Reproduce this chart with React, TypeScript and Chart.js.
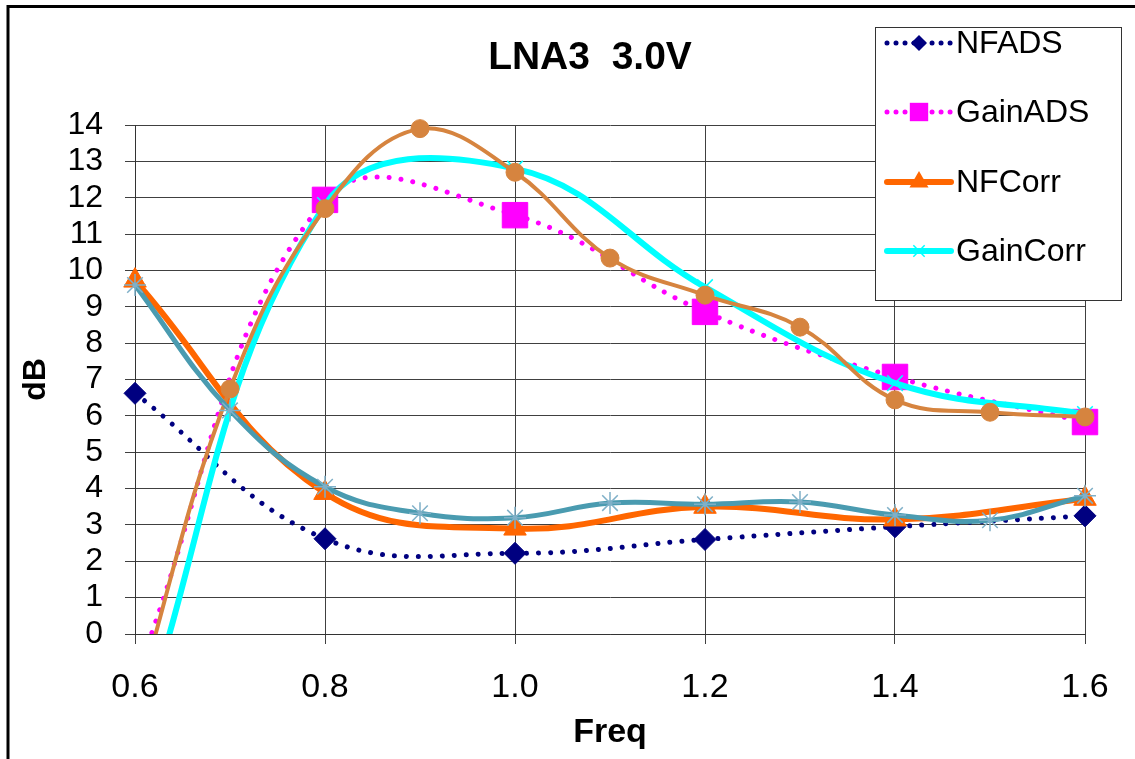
import React, { useEffect, useRef } from 'react';
import { Chart, registerables } from 'chart.js';

Chart.register(...registerables);

// ---------- data ----------
const TITLE = 'LNA3  3.0V';
const X_TITLE = 'Freq';
const Y_TITLE = 'dB';

const freqCoarse = [0.6, 0.8, 1.0, 1.2, 1.4, 1.6];
const freqFine = [0.6, 0.7, 0.8, 0.9, 1.0, 1.1, 1.2, 1.3, 1.4, 1.5, 1.6];

const nfAds = [6.62, 2.62, 2.22, 2.6, 2.95, 3.25];
const gainAds = [-1.2, 11.94, 11.52, 8.86, 7.07, 5.83];
const nfCorr = [9.72, 3.88, 2.9, 3.5, 3.15, 3.72];
const gainCorr = [-3.0, 11.8, 12.8, 9.54, 6.9, 6.05];
const gainMeas = [-2.0, 6.74, 11.7, 13.9, 12.7, 10.34, 9.32, 8.44, 6.44, 6.1, 5.97];
const nfMeas = [9.6, 6.15, 4.05, 3.32, 3.2, 3.6, 3.57, 3.63, 3.27, 3.13, 3.8];

const Y_MIN = 0;
const Y_MAX = 14;
const Y_STEP = 1;
const X_MIN = 0.6;
const X_MAX = 1.6;
const X_STEP = 0.2;

const FONT = '"Liberation Sans", Arial, Helvetica, sans-serif';

const W = 1135;
const H = 759;

const toXY = (xs: number[], ys: number[]) => xs.map((x, i) => ({ x, y: ys[i] }));

type MarkerStyle = 'rectRot' | 'rect' | 'triangle' | 'crossRot' | 'circle' | 'star';

function drawMarker(
  ctx: CanvasRenderingContext2D,
  style: MarkerStyle,
  x: number,
  y: number,
  r: number,
  fill: string,
  stroke: string,
  lw: number
) {
  ctx.save();
  ctx.setLineDash([]);
  ctx.fillStyle = fill;
  ctx.strokeStyle = stroke;
  ctx.lineWidth = lw;
  ctx.beginPath();
  if (style === 'rectRot') {
    ctx.moveTo(x, y - r);
    ctx.lineTo(x + r, y);
    ctx.lineTo(x, y + r);
    ctx.lineTo(x - r, y);
    ctx.closePath();
    ctx.fill();
  } else if (style === 'rect') {
    const s = r * Math.SQRT1_2;
    ctx.rect(x - s, y - s, 2 * s, 2 * s);
    ctx.fill();
  } else if (style === 'triangle') {
    ctx.moveTo(x, y - r);
    ctx.lineTo(x + r * 0.866, y + r / 2);
    ctx.lineTo(x - r * 0.866, y + r / 2);
    ctx.closePath();
    ctx.fill();
  } else if (style === 'crossRot') {
    const s = r * Math.SQRT1_2;
    ctx.moveTo(x - s, y - s);
    ctx.lineTo(x + s, y + s);
    ctx.moveTo(x - s, y + s);
    ctx.lineTo(x + s, y - s);
    ctx.stroke();
  } else if (style === 'circle') {
    ctx.arc(x, y, r, 0, Math.PI * 2);
    ctx.fill();
  }
  ctx.restore();
}

const decorPlugin = {
  id: 'decor',
  afterDraw(chart: any) {
    const ctx: CanvasRenderingContext2D = chart.ctx;
    ctx.save();

    // outer frame (only top and left edges fall inside the picture)
    ctx.strokeStyle = '#000';
    ctx.lineWidth = 3;
    ctx.setLineDash([]);
    ctx.beginPath();
    ctx.moveTo(8, H + 5);
    ctx.lineTo(8, 6.5);
    ctx.lineTo(W + 5, 6.5);
    ctx.stroke();

    // title
    ctx.fillStyle = '#000';
    ctx.font = `bold 39px ${FONT}`;
    ctx.textAlign = 'center';
    ctx.textBaseline = 'middle';
    ctx.fillText(TITLE, 590, 58);

    // legend box
    const bx = 875.5, by = 27.5, bw = 246, bh = 273;
    ctx.fillStyle = '#fff';
    ctx.fillRect(bx, by, bw, bh);
    ctx.strokeStyle = '#333';
    ctx.lineWidth = 1;
    ctx.strokeRect(bx, by, bw, bh);

    const ds = chart.data.datasets;
    const rowsY = [43, 112, 182, 251];
    const legendMarkerR = [8, 13, 11, 8];
    for (let i = 0; i < 4; i++) {
      const d = ds[i];
      const cy = rowsY[i];
      ctx.save();
      ctx.strokeStyle = d.borderColor;
      ctx.lineWidth = d.borderWidth;
      ctx.lineCap = d.borderCapStyle || 'butt';
      ctx.setLineDash(d.borderDash ? [0.01, 9] : []);
      ctx.beginPath();
      ctx.moveTo(887, cy);
      ctx.lineTo(951, cy);
      ctx.stroke();
      ctx.restore();
      drawMarker(ctx, d.pointStyle, 919, cy, legendMarkerR[i], d.pointBackgroundColor, d.pointBorderColor, d.pointBorderWidth);
      ctx.fillStyle = '#000';
      ctx.font = `32px ${FONT}`;
      ctx.textAlign = 'left';
      ctx.textBaseline = 'middle';
      ctx.fillText(d.label, 956, cy + 1);
    }

    ctx.restore();
  },
};

export default function App() {
  const canvasRef = useRef<HTMLCanvasElement | null>(null);

  useEffect(() => {
    const canvas = canvasRef.current;
    if (!canvas) return;
    const dotted = [0.01, 12];
    const clip = { left: 30, top: 30, right: 30, bottom: 0 };
    const chart = new Chart(canvas, {
      type: 'line',
      data: {
        datasets: [
          {
            label: 'NFADS',
            data: toXY(freqCoarse, nfAds),
            borderColor: '#000080',
            borderWidth: 5,
            borderDash: dotted,
            borderCapStyle: 'round',
            pointStyle: 'rectRot',
            pointRadius: 11,
            pointBackgroundColor: '#000080',
            pointBorderColor: '#000080',
            pointBorderWidth: 1,
            tension: 0.4,
            order: 6,
            clip,
          },
          {
            label: 'GainADS',
            data: toXY(freqCoarse, gainAds),
            borderColor: '#FF00FF',
            borderWidth: 5,
            borderDash: dotted,
            borderCapStyle: 'round',
            pointStyle: 'rect',
            pointRadius: 18,
            pointBackgroundColor: '#FF00FF',
            pointBorderColor: '#FF00FF',
            pointBorderWidth: 1,
            tension: 0.4,
            order: 5,
            clip,
          },
          {
            label: 'NFCorr',
            data: toXY(freqCoarse, nfCorr),
            borderColor: '#FF6600',
            borderWidth: 6,
            borderCapStyle: 'round',
            pointStyle: 'triangle',
            pointRadius: 13,
            pointBackgroundColor: '#FF6600',
            pointBorderColor: '#FF6600',
            pointBorderWidth: 1,
            tension: 0.4,
            order: 4,
            clip,
          },
          {
            label: 'GainCorr',
            data: toXY(freqCoarse, gainCorr),
            borderColor: '#00FFFF',
            borderWidth: 6,
            borderCapStyle: 'round',
            pointStyle: 'crossRot',
            pointRadius: 11,
            pointBackgroundColor: '#00FFFF',
            pointBorderColor: '#00FFFF',
            pointBorderWidth: 1.5,
            tension: 0.4,
            order: 3,
            clip,
          },
          {
            label: 'GainMeas',
            data: toXY(freqFine, gainMeas),
            borderColor: '#D6843F',
            borderWidth: 4,
            borderCapStyle: 'round',
            pointStyle: 'circle',
            pointRadius: 9,
            pointBackgroundColor: '#D6843F',
            pointBorderColor: '#D6843F',
            pointBorderWidth: 1,
            tension: 0.4,
            order: 2,
            clip,
          },
          {
            label: 'NFMeas',
            data: toXY(freqFine, nfMeas),
            borderColor: '#4A9BB0',
            borderWidth: 5,
            borderCapStyle: 'round',
            pointStyle: 'star',
            pointRadius: 11,
            pointBackgroundColor: '#7FB0C8',
            pointBorderColor: '#7FB0C8',
            pointBorderWidth: 1.5,
            tension: 0.4,
            order: 1,
            clip,
          },
        ] as any,
      },
      options: {
        animation: false,
        responsive: false,
        events: [],
        layout: { padding: { left: 0, top: 125, right: 50, bottom: 0 } },
        plugins: {
          legend: { display: false },
          title: { display: false },
          tooltip: { enabled: false },
        },
        scales: {
          x: {
            type: 'linear',
            min: X_MIN,
            max: X_MAX,
            afterFit: (s: any) => {
              s.height = 125;
            },
            ticks: {
              stepSize: X_STEP,
              autoSkip: false,
              maxRotation: 0,
              padding: 23,
              color: '#000',
              font: { family: FONT, size: 34 },
              callback: (v: any) => Number(v).toFixed(1),
            },
            grid: {
              color: '#404040',
              lineWidth: 1,
              drawTicks: true,
              tickLength: 10,
              tickColor: '#404040',
            },
            border: { color: '#333', width: 1 },
            title: {
              display: true,
              text: X_TITLE,
              color: '#000',
              font: { family: FONT, size: 34, weight: 'bold' },
              padding: { top: 0, bottom: 6 },
            },
          },
          y: {
            type: 'linear',
            min: Y_MIN,
            max: Y_MAX,
            afterFit: (s: any) => {
              s.width = 135;
            },
            ticks: {
              stepSize: Y_STEP,
              autoSkip: false,
              padding: 22,
              color: '#000',
              font: { family: FONT, size: 32 },
            },
            grid: {
              color: '#404040',
              lineWidth: 1,
              drawTicks: true,
              tickLength: 10,
              tickColor: '#404040',
            },
            border: { color: '#333', width: 1 },
            title: {
              display: true,
              text: Y_TITLE,
              color: '#000',
              font: { family: FONT, size: 32, weight: 'bold' },
              padding: { top: 17, bottom: 0 },
            },
          },
        },
      } as any,
      plugins: [decorPlugin],
    });
    return () => chart.destroy();
  }, []);

  return (
    <div style={{ position: 'fixed', left: 0, top: 0, width: W, height: H, background: '#fff' }}>
      <canvas ref={canvasRef} width={W} height={H} style={{ width: W, height: H, display: 'block' }} />
    </div>
  );
}
